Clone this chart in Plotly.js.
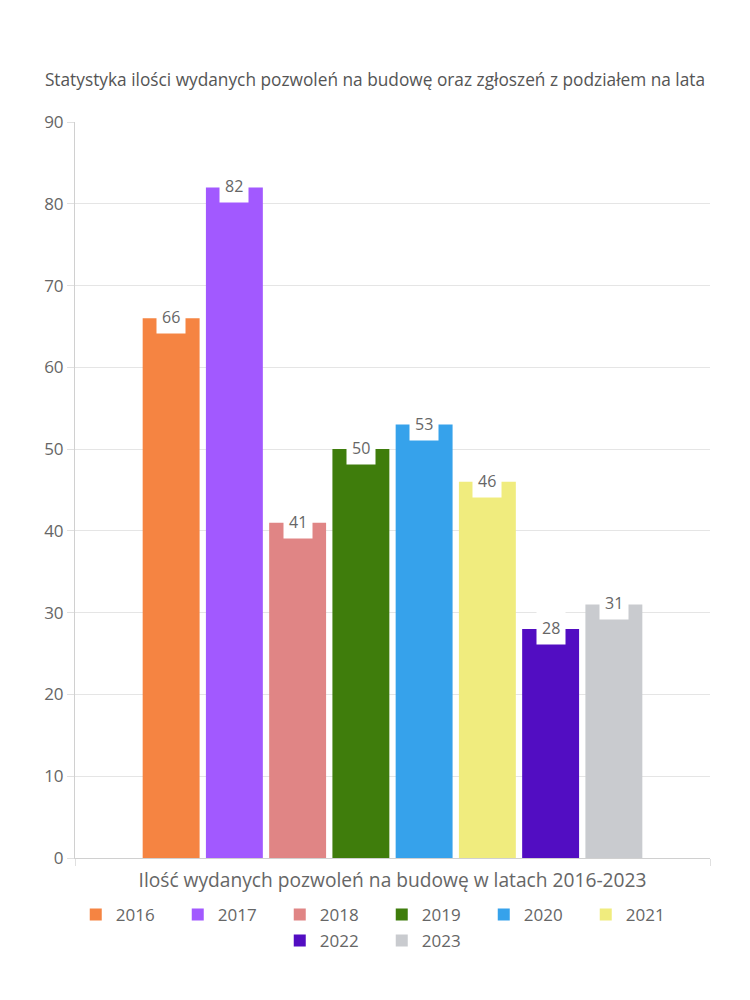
<!DOCTYPE html>
<html>
<head>
<meta charset="utf-8">
<script src="https://cdn.plot.ly/plotly-3.0.1.min.js"></script>
<style>html,body{margin:0;padding:0;background:#fff;}#chart{width:750px;height:1000px;}</style>
</head>
<body>
<div id="chart"></div>
<script>
const years = ['2016','2017','2018','2019','2020','2021','2022','2023'];
const values = [66, 82, 41, 50, 53, 46, 28, 31];
const colors = ['#F58442','#A259FF','#E08585','#3F7D0C','#36A2EB','#F0EC7E','#520DC2','#C9CBCF'];
const legendRow = [1, 1, 1, 1, 1, 1, 2, 2];
const yTicks = [0,10,20,30,40,50,60,70,80,90];
const titleText = 'Statystyka ilości wydanych pozwoleń na budowę oraz zgłoszeń z podziałem na lata';
const xTitleText = 'Ilość wydanych pozwoleń na budowę w latach 2016-2023';

const FONT = '"Open Sans", Lato, sans-serif';
const xMin = -1.52, xMax = 8.52;

const traces = years.map((y, i) => ({
  type: 'bar',
  name: y,
  x: [i],
  y: [values[i]],
  width: 0.9,
  legend: legendRow[i] === 1 ? 'legend' : 'legend2',
  marker: {color: colors[i], line: {width: 0}},
  hoverinfo: 'none'
}));

const annotations = years.map((y, i) => ({
  x: i, y: values[i], xref: 'x', yref: 'y',
  text: String(values[i]), showarrow: false,
  bgcolor: '#ffffff', borderpad: 5,
  font: {family: FONT, size: 16, color: '#666'},
  xanchor: 'center', yanchor: 'middle', yshift: 1
}));

const legendBase = {orientation: 'h', xref: 'container', x: 0.509, xanchor: 'center',
  yref: 'container', yanchor: 'top', entrywidth: 57, entrywidthmode: 'pixels',
  font: {family: FONT, size: 17, color: '#666'}, traceorder: 'normal'};

const layout = {
  width: 750, height: 1000,
  margin: {l: 75, r: 40, t: 122, b: 142},
  paper_bgcolor: '#fff', plot_bgcolor: '#fff',
  font: {family: FONT, color: '#666', size: 16},
  title: {text: titleText, x: 0.5, xanchor: 'center', y: 0.92, yanchor: 'middle', yref: 'container',
          font: {family: FONT, size: 17.3, color: '#555'}},
  barmode: 'overlay',
  showlegend: true,
  legend: Object.assign({}, legendBase, {y: 0.103}),
  legend2: Object.assign({}, legendBase, {y: 0.077}),
  xaxis: {range: [xMin, xMax], tickvals: [xMin, xMax], ticktext: ['', ''],
          showgrid: true, gridcolor: '#e5e5e5', zeroline: false,
          showline: true, linecolor: '#d0d0d0', linewidth: 1,
          ticks: 'outside', ticklen: 7, tickcolor: '#e0e0e0',
          title: {text: xTitleText, standoff: 5, font: {family: FONT, size: 19.2, color: '#666'}},
          fixedrange: true},
  yaxis: {range: [0, 90], tickvals: yTicks, showgrid: true, gridcolor: '#e5e5e5',
          zeroline: false, showline: true, linecolor: '#d0d0d0', linewidth: 1,
          ticks: 'outside', ticklen: 7, tickcolor: '#e0e0e0',
          tickfont: {family: FONT, size: 17, color: '#666'}, fixedrange: true},
  annotations: annotations
};

Plotly.newPlot('chart', traces, layout, {displayModeBar: false, staticPlot: true});
</script>
</body>
</html>
